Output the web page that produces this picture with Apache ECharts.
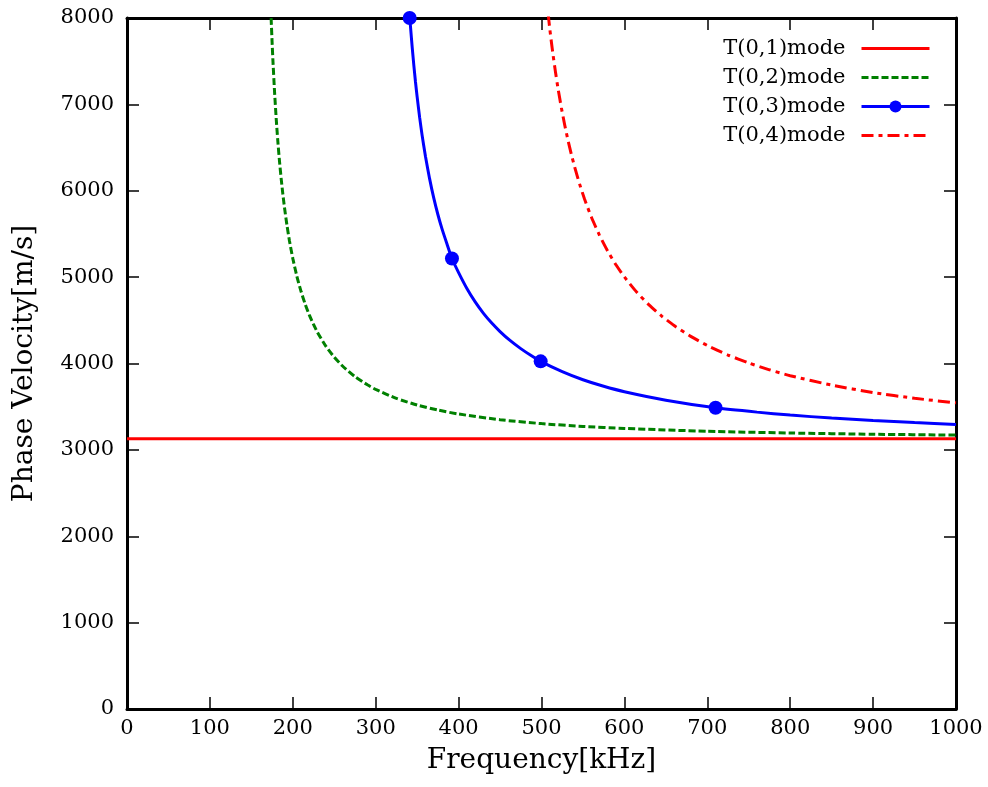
<!DOCTYPE html>
<html>
<head>
<meta charset="utf-8">
<script src="https://cdn.jsdelivr.net/npm/echarts@6/dist/echarts.min.js"></script>
<style>
html,body{margin:0;padding:0;background:#fff;}
#chart{width:988px;height:787px;}
</style>
</head>
<body>
<div id="chart"></div>
<script>
// ---- data ----
const seriesNames = ['T(0,1)mode', 'T(0,2)mode', 'T(0,3)mode', 'T(0,4)mode'];
const xTicks = [0, 100, 200, 300, 400, 500, 600, 700, 800, 900, 1000];
const yTicks = [0, 1000, 2000, 3000, 4000, 5000, 6000, 7000, 8000];

const t1Freq = [0, 1000];
const t1Vel  = [3130, 3130];

const t2Freq = [173, 174, 175, 176, 178, 180, 182, 184, 186, 188, 190, 193, 196, 200, 205, 210, 215, 220, 225, 230, 240, 250, 260, 275, 290, 300, 325, 350, 375, 400, 450, 500, 550, 600, 700, 800, 900, 1000];
const t2Vel  = [8231, 7962, 7727, 7512, 7143, 6832, 6566, 6337, 6138, 5961, 5804, 5597, 5419, 5217, 5007, 4833, 4686, 4560, 4452, 4357, 4199, 4073, 3971, 3848, 3753, 3700, 3596, 3519, 3461, 3415, 3349, 3304, 3271, 3248, 3215, 3195, 3181, 3171];

const t3Freq = [341, 342, 344, 346, 348, 350, 353, 356, 360, 365, 370, 375, 380, 386, 392, 400, 410, 420, 430, 440, 450, 462, 475, 487, 499, 525, 550, 575, 600, 650, 710, 760, 800, 850, 900, 950, 1000];
const t3Vel  = [8000, 7896, 7664, 7452, 7259, 7086, 6849, 6641, 6400, 6140, 5917, 5725, 5558, 5383, 5215, 5052, 4868, 4713, 4581, 4468, 4370, 4267, 4172, 4095, 4025, 3906, 3812, 3736, 3673, 3575, 3487, 3437, 3403, 3368, 3340, 3316, 3295];
const t3MarkerFreq = [341, 392, 499, 710];

const t4Freq = [508, 510, 512, 514, 517, 520, 524, 528, 532, 536, 540, 546, 552, 560, 570, 580, 590, 600, 615, 630, 645, 660, 680, 700, 725, 750, 775, 800, 850, 900, 950, 1000];
const t4Vel  = [8050, 7874, 7717, 7569, 7365, 7181, 6959, 6762, 6583, 6421, 6274, 6077, 5902, 5699, 5484, 5299, 5140, 5002, 4824, 4676, 4549, 4439, 4314, 4209, 4098, 4006, 3927, 3859, 3750, 3664, 3597, 3545];

// ---- build ----
const pairs = (xs, ys) => xs.map((x, i) => [x, ys[i]]);
const t3Data = t3Freq.map((x, i) => ({
  value: [x, t3Vel[i]],
  symbol: t3MarkerFreq.includes(x) ? 'circle' : 'none'
}));

const FONT = 'DejaVu Serif';
const plain = v => String(v);
const axisLine = { show: true, onZero: false, lineStyle: { color: '#000', width: 3 } };
const axisTickIn = { show: true, inside: true, length: 12, lineStyle: { color: '#000', width: 1.5 } };

const legendItem = (name, color, dash, showMarker) => ({
  name: name,
  itemStyle: showMarker ? { color: color } : { color: color, opacity: 0 },
  lineStyle: { color: color, width: 3, type: dash }
});

const chart = echarts.init(document.getElementById('chart'), null, { renderer: 'canvas' });
chart.setOption({
  animation: false,
  backgroundColor: '#fff',
  grid: { left: 127, right: 32, top: 18, bottom: 78, containLabel: false },
  legend: {
    data: [
      legendItem(seriesNames[0], '#ff0000', 'solid', false),
      legendItem(seriesNames[1], '#008000', [7, 3], false),
      legendItem(seriesNames[2], '#0000ff', 'solid', true),
      legendItem(seriesNames[3], '#ff0000', [12, 5, 4, 5], false)
    ],
    right: 52,
    top: 33,
    orient: 'vertical',
    align: 'right',
    itemWidth: 68,
    itemHeight: 15,
    itemGap: 8,
    textStyle: { fontFamily: FONT, fontSize: 21, color: '#000', lineHeight: 20, padding: [0, 11, 0, 0] }
  },
  xAxis: [
    {
      type: 'value', position: 'bottom', min: xTicks[0], max: xTicks[xTicks.length - 1], interval: 100,
      name: 'Frequency[kHz]', nameLocation: 'middle', nameGap: 38,
      nameTextStyle: { fontFamily: FONT, fontSize: 28, color: '#000' },
      axisLine: axisLine, axisTick: axisTickIn,
      axisLabel: { fontFamily: FONT, fontSize: 21, color: '#000', margin: 9, formatter: plain },
      splitLine: { show: false }
    },
    {
      type: 'value', position: 'top', min: xTicks[0], max: xTicks[xTicks.length - 1], interval: 100,
      axisLine: axisLine, axisTick: axisTickIn, axisLabel: { show: false }, splitLine: { show: false }
    }
  ],
  yAxis: [
    {
      type: 'value', position: 'left', min: yTicks[0], max: yTicks[yTicks.length - 1], interval: 1000,
      name: 'Phase Velocity[m/s]', nameLocation: 'middle', nameGap: 88,
      nameTextStyle: { fontFamily: FONT, fontSize: 28, color: '#000' },
      axisLine: axisLine, axisTick: axisTickIn,
      axisLabel: { fontFamily: FONT, fontSize: 21, color: '#000', margin: 13, formatter: plain },
      splitLine: { show: false }
    },
    {
      type: 'value', position: 'right', min: yTicks[0], max: yTicks[yTicks.length - 1], interval: 1000,
      axisLine: axisLine, axisTick: axisTickIn, axisLabel: { show: false }, splitLine: { show: false }
    }
  ],
  series: [
    {
      name: seriesNames[0], type: 'line', data: pairs(t1Freq, t1Vel), symbol: 'none',
      lineStyle: { color: '#ff0000', width: 3 }, itemStyle: { color: '#ff0000' }, z: 3
    },
    {
      name: seriesNames[1], type: 'line', data: pairs(t2Freq, t2Vel), symbol: 'none', smooth: 0.2,
      lineStyle: { color: '#008000', width: 3, type: [7, 3] }, itemStyle: { color: '#008000' }, z: 4
    },
    {
      name: seriesNames[2], type: 'line', data: t3Data, symbol: 'circle', symbolSize: 14, showSymbol: true, showAllSymbol: true,
      smooth: 0.2,
      lineStyle: { color: '#0000ff', width: 3 }, itemStyle: { color: '#0000ff' }, z: 5
    },
    {
      name: seriesNames[3], type: 'line', data: pairs(t4Freq, t4Vel), symbol: 'none', smooth: 0.2,
      lineStyle: { color: '#ff0000', width: 3, type: [12, 5, 4, 5] }, itemStyle: { color: '#ff0000' }, z: 4
    }
  ]
});
</script>
</body>
</html>
